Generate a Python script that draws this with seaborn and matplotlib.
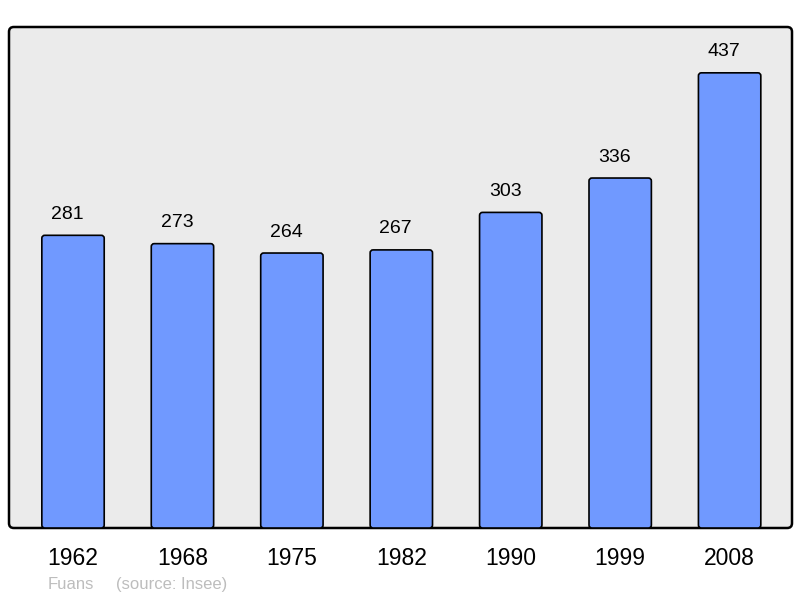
import matplotlib
matplotlib.use("Agg")
import matplotlib.pyplot as plt
from matplotlib.patches import FancyBboxPatch
import pandas as pd
import seaborn as sns

years = ["1962", "1968", "1975", "1982", "1990", "1999", "2008"]
population = [281, 273, 264, 267, 303, 336, 437]
commune = "Fuans"
source = "(source: Insee)"

sns.set_style("white")
plt.rcParams["font.family"] = ["Liberation Sans", "DejaVu Sans"]

df = pd.DataFrame({"year": years, "pop": population})

fig = plt.figure(figsize=(8, 5.98), dpi=100)
ax = fig.add_axes([9 / 800, 70 / 598, 783 / 800, 501 / 598])
ax.set_zorder(2)

sns.barplot(data=df, x="year", y="pop", color="#7099ff", saturation=1,
            edgecolor="black", linewidth=1.2, width=0.57, ax=ax, zorder=3)

# rounded corners on the bars (about 3 px)
for p in list(ax.patches):
    x, y = p.get_x(), p.get_y()
    w, h = p.get_width(), p.get_height()
    rb = FancyBboxPatch((x, y), w, h, boxstyle="round,pad=0,rounding_size=0.027",
                        mutation_aspect=105,
                        facecolor="#7099ff", edgecolor="black", linewidth=1.2, zorder=3)
    p.remove()
    ax.add_patch(rb)

# value labels sit slightly left of the bar centre, as in the original
for i, v in enumerate(population):
    ax.annotate(str(v), (i, v), xytext=(-4, 9), textcoords="offset points",
                ha="center", va="bottom", fontsize=14, color="black")

ax.set_xlim(-0.585, 6.57)
ax.set_ylim(0, 481)
ax.set_xlabel("")
ax.set_ylabel("")
ax.set_yticks([])
ax.tick_params(axis="x", length=0, pad=14, labelsize=16.5, labelcolor="black")
for s in ax.spines.values():
    s.set_visible(False)
ax.patch.set_visible(False)

# frame with rounded corners
frame = FancyBboxPatch((9 / 800, 70 / 598), 783 / 800, 501 / 598,
                       boxstyle="round,pad=0,rounding_size=0.006",
                       mutation_aspect=800 / 598,
                       transform=fig.transFigure, facecolor="#ebebeb",
                       edgecolor="black", linewidth=1.8, zorder=0)
fig.patches.append(frame)

fig.text(48 / 800, 1 - 589 / 598, commune, fontsize=12,
         color="#bdbdbd", ha="left", va="baseline")
fig.text(116 / 800, 1 - 589 / 598, source, fontsize=12,
         color="#bdbdbd", ha="left", va="baseline")

fig.savefig("out.png", dpi=100)
